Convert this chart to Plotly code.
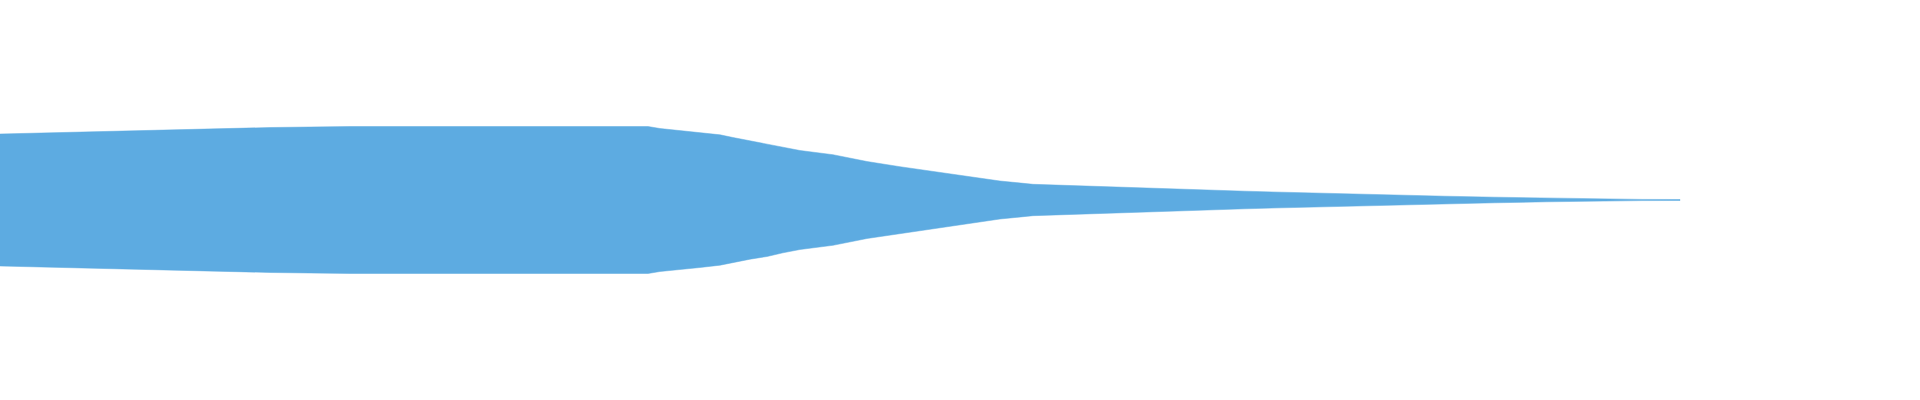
import plotly.graph_objects as go

# Waveform envelope (bar position, peak amplitude, normalised to the ±1 axis)
positions = [0, 50, 100, 150, 200, 270, 350, 500, 600, 648, 660, 680, 700, 720, 733, 750,
             767, 783, 800, 833, 867, 900, 933, 967, 1000, 1033, 1067, 1100, 1133, 1167,
             1200, 1245, 1282, 1319, 1359, 1400, 1445, 1495, 1547, 1607, 1642, 1680]
peaks_px = [66, 67.2, 68.5, 69.5, 71, 72.5, 73.5, 73.5, 73.5, 73.5, 71.5, 69.5, 67.5, 65.2,
            62.5, 59.2, 56.5, 52.8, 49.5, 45.3, 38.5, 33.3, 28.5, 23.7, 19, 15.7, 14.5, 13.5,
            12.3, 11.5, 10.3, 8.8, 7.8, 6.8, 5.8, 4.8, 3.8, 2.8, 1.8, 0.9, 0.6, 0.5]
amplitude = [p / 200.0 for p in peaks_px]

WAVE_COLOR = "#5DABE1"

xs = positions + positions[::-1]
ys = amplitude + [-a for a in amplitude[::-1]]

fig = go.Figure()
fig.add_trace(go.Scatter(
    x=xs, y=ys, mode="lines", fill="toself",
    fillcolor=WAVE_COLOR, line=dict(color=WAVE_COLOR, width=0.5),
    hoverinfo="skip", showlegend=False,
))

fig.update_layout(
    width=1920, height=400,
    margin=dict(l=0, r=0, t=0, b=0),
    paper_bgcolor="white", plot_bgcolor="white",
    xaxis=dict(range=[0, 1920], visible=False, fixedrange=True),
    yaxis=dict(range=[-1.0, 1.0], visible=False, fixedrange=True),
    showlegend=False,
)

fig.write_html("out.html", config={"displayModeBar": False},
               post_script="document.body.style.margin='0';")
